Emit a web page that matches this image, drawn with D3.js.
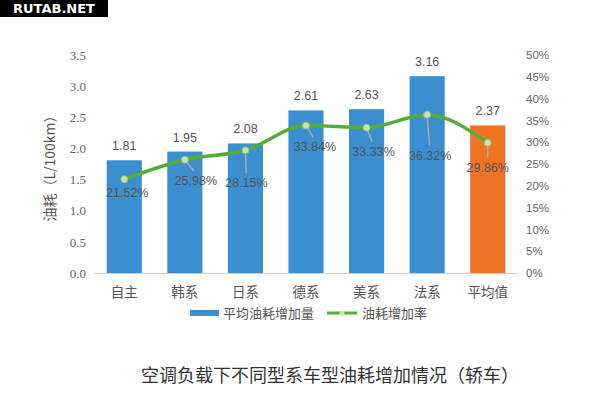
<!DOCTYPE html>
<html>
<head>
<meta charset="utf-8">
<script src="https://cdn.jsdelivr.net/npm/d3@7"></script>
<style>
  body { margin: 0; background: #fff; }
  text { font-family: "Noto Sans CJK SC", "Noto Sans", sans-serif; }
</style>
</head>
<body>
<div id="vis"></div>
<script>
// data
const categories = ["自主", "韩系", "日系", "德系", "美系", "法系", "平均值"];
const fuelIncrease = [1.81, 1.95, 2.08, 2.61, 2.63, 3.16, 2.37];
const increaseRate = [0.2152, 0.2598, 0.2815, 0.3384, 0.3333, 0.3632, 0.2986];
const leftTicks = [0, 0.5, 1.0, 1.5, 2.0, 2.5, 3.0, 3.5];
const rightTicks = [0, 0.05, 0.10, 0.15, 0.20, 0.25, 0.30, 0.35, 0.40, 0.45, 0.50];
// label offset (dx, dy) of each rate label from its point
const rateLabelOffset = [[3, 14], [11, 21], [1, 33], [9, 22], [7, 24], [3, 41], [0, 25]];

const svg = d3.select("#vis")
    .append("svg")
    .attr("width", 600)
    .attr("height", 396);

svg.append("rect")
    .attr("width", 600)
    .attr("height", 396)
    .attr("fill", "#fff");

const x = d3.scaleBand()
    .domain(categories)
    .range([94, 518])
    .paddingInner(0.42)
    .paddingOuter(0.21);

const y = d3.scaleLinear().domain([0, 3.5]).range([273, 55]);
const y2 = d3.scaleLinear().domain([0, 0.5]).range([273, 55]);

// left axis
const leftAxis = svg.append("g")
    .attr("transform", "translate(86,0)")
    .call(d3.axisLeft(y).tickValues(leftTicks).tickFormat(d3.format(".1f")).tickSize(0).tickPadding(0));
leftAxis.select(".domain").remove();
leftAxis.selectAll("text")
    .attr("fill", "#666")
    .style("font-family", "'Liberation Serif', serif")
    .style("font-size", "13px");

// right axis
const rightAxis = svg.append("g")
    .attr("transform", "translate(526,0)")
    .call(d3.axisRight(y2).tickValues(rightTicks).tickFormat(d3.format(".0%")).tickSize(0).tickPadding(0));
rightAxis.select(".domain").remove();
rightAxis.selectAll("text")
    .attr("fill", "#666")
    .style("font-family", "'Liberation Sans', sans-serif")
    .style("font-size", "11.5px");

// baseline
svg.append("line")
    .attr("x1", 94).attr("x2", 518)
    .attr("y1", y(0) + 0.5).attr("y2", y(0) + 0.5)
    .attr("stroke", "#d0d0d0");

// y title
svg.append("text")
    .attr("transform", "translate(55,165) rotate(-90)")
    .attr("text-anchor", "middle")
    .attr("fill", "#555")
    .style("font-size", "14px")
    .text("油耗（L/100km）");

// bars
svg.append("g").selectAll("rect")
    .data(fuelIncrease)
    .join("rect")
    .attr("x", (d, i) => x(categories[i]))
    .attr("y", d => y(d))
    .attr("width", x.bandwidth())
    .attr("height", d => y(0) - y(d))
    .attr("fill", (d, i) => i === categories.length - 1 ? "#f07324" : "#3b8fd0");

// bar labels
svg.append("g").selectAll("text")
    .data(fuelIncrease)
    .join("text")
    .attr("x", (d, i) => x(categories[i]) + x.bandwidth() / 2)
    .attr("y", d => y(d) - 10)
    .attr("text-anchor", "middle")
    .attr("fill", "#555")
    .style("font-family", "'Liberation Sans', sans-serif")
    .style("font-size", "12.5px")
    .text(d => d.toFixed(2));

// line
const cx = i => x(categories[i]) + x.bandwidth() / 2;
const line = d3.line()
    .x((d, i) => cx(i))
    .y(d => y2(d))
    .curve(d3.curveMonotoneX);

// leader lines
svg.append("g").selectAll("line")
    .data(increaseRate)
    .join("line")
    .attr("x1", (d, i) => cx(i))
    .attr("y1", d => y2(d))
    .attr("x2", (d, i) => cx(i) + rateLabelOffset[i][0] * 0.8)
    .attr("y2", (d, i) => y2(d) + rateLabelOffset[i][1] - 10)
    .attr("stroke", "#a8a8a8")
    .attr("stroke-width", 1.5);

svg.append("path")
    .datum(increaseRate)
    .attr("d", line)
    .attr("fill", "none")
    .attr("stroke", "#55ad35")
    .attr("stroke-width", 3.5);

svg.append("g").selectAll("circle")
    .data(increaseRate)
    .join("circle")
    .attr("cx", (d, i) => cx(i))
    .attr("cy", d => y2(d))
    .attr("r", 3.5)
    .attr("fill", "#c9e3b8")
    .attr("stroke", "#8cc46e")
    .attr("stroke-width", 1);

// rate labels
svg.append("g").selectAll("text")
    .data(increaseRate)
    .join("text")
    .attr("x", (d, i) => cx(i) + rateLabelOffset[i][0])
    .attr("y", (d, i) => y2(d) + rateLabelOffset[i][1] + 4)
    .attr("text-anchor", "middle")
    .attr("fill", "#555")
    .style("font-family", "'Liberation Sans', sans-serif")
    .style("font-size", "12.5px")
    .text(d => (d * 100).toFixed(2) + "%");

// category labels
svg.append("g").selectAll("text")
    .data(categories)
    .join("text")
    .attr("x", d => x(d) + x.bandwidth() / 2)
    .attr("y", 297)
    .attr("text-anchor", "middle")
    .attr("fill", "#555")
    .style("font-size", "13.5px")
    .text(d => d);

// legend
const legend = svg.append("g");
legend.append("rect")
    .attr("x", 190).attr("y", 310)
    .attr("width", 29).attr("height", 6)
    .attr("fill", "#3b8fd0");
legend.append("text")
    .attr("x", 223).attr("y", 318)
    .attr("fill", "#555")
    .style("font-size", "13px")
    .text("平均油耗增加量");
legend.append("line")
    .attr("x1", 327).attr("x2", 357)
    .attr("y1", 313).attr("y2", 313)
    .attr("stroke", "#55ad35")
    .attr("stroke-width", 3);
legend.append("circle")
    .attr("cx", 342).attr("cy", 313).attr("r", 2.5)
    .attr("fill", "#c9e3b8");
legend.append("text")
    .attr("x", 362).attr("y", 318)
    .attr("fill", "#555")
    .style("font-size", "13px")
    .text("油耗增加率");

// title
svg.append("text")
    .attr("x", 330).attr("y", 382)
    .attr("text-anchor", "middle")
    .attr("fill", "#333")
    .style("font-size", "18px")
    .text("空调负载下不同型系车型油耗增加情况（轿车）");

// watermark
svg.append("rect")
    .attr("x", 0).attr("y", 0)
    .attr("width", 108).attr("height", 17)
    .attr("fill", "#000");
svg.append("text")
    .attr("x", 54).attr("y", 13)
    .attr("text-anchor", "middle")
    .attr("fill", "#fff")
    .style("font-family", "'DejaVu Sans', sans-serif")
    .style("font-weight", "bold")
    .style("font-size", "13px")
    .text("RUTAB.NET");
</script>
</body>
</html>
